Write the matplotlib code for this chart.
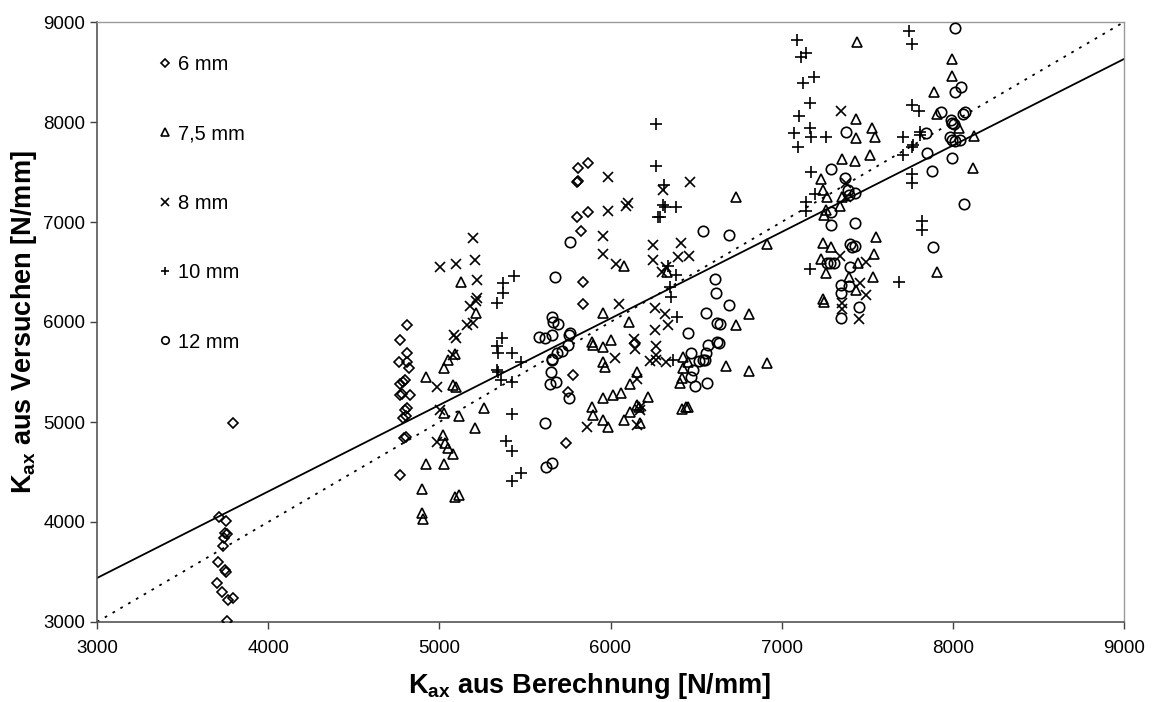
import numpy as np
import matplotlib
matplotlib.use("Agg")
import matplotlib.pyplot as plt

plt.rcParams['font.family'] = ['Liberation Sans', 'DejaVu Sans']
plt.rcParams['mathtext.fontset'] = 'custom'
plt.rcParams['mathtext.rm'] = 'Liberation Sans'
plt.rcParams['mathtext.bf'] = 'Liberation Sans:bold'
plt.rcParams['mathtext.default'] = 'bf'

# ---------------- data ----------------
x_6mm = [3793, 3713, 3751, 3748, 3757, 3744, 3738, 3709, 3748, 3753, 3703, 3732, 3796, 3763, 3761,
         4813, 4770, 4813, 4766, 4813, 4825, 4789, 4800, 4773, 4770, 4779, 4828, 4809, 4799, 4789,
         4805, 4793, 4805, 4770,
         5868, 5810, 5804, 5810, 5868, 5804, 5827, 5840, 5840, 5782, 5753, 5740, 6143]
y_6mm = [4993, 4053, 4013, 3893, 3880, 3837, 3760, 3603, 3520, 3503, 3393, 3303, 3237, 3220, 3010,
         5970, 5820, 5693, 5603, 5603, 5543, 5403, 5420, 5380, 5270, 5280, 5270, 5137, 5120, 5037,
         5060, 4837, 4847, 4470,
         7590, 7540, 7400, 7410, 7100, 7050, 6910, 6400, 6180, 5470, 5303, 4787, 5790]

x_75mm = [5091, 5052, 5027, 4920, 5077, 5100, 5027, 5114, 5260, 5211, 5023, 5033, 5052, 5081, 4920,
          5027, 4901, 5091, 5117, 4901, 4905, 5124, 5214,
          6081, 5958, 6107, 5893, 5900, 6000, 5958, 5958, 5970, 6153, 6114, 5958, 6012, 6059, 5893,
          5899, 5958, 5985, 6079, 6114, 6156, 6166, 6220, 6172, 6425, 6454, 6425, 6415, 6405, 6415,
          6444, 6454, 6333,
          6736, 6915, 7437, 7525, 7437, 7544, 7355, 7428, 7515, 7232, 7242, 7265, 7355, 7246, 7258,
          7343, 7242, 7287, 7232, 7258, 7447, 7540, 7553, 7535, 7394, 7437, 7242,
          6810, 6736, 6674, 6810, 6915, 7246,
          7996, 7996, 7891, 7905, 8037, 8123, 8119, 7905, 7439]
y_75mm = [5680, 5620, 5537, 5447, 5370, 5353, 5087, 5060, 5137, 4937, 4870, 4787, 4737, 4677, 4580,
          4580, 4330, 4247, 4270, 4093, 4030, 6403, 6093,
          6563, 6087, 6003, 5797, 5770, 5820, 5753, 5597, 5547, 5503, 5380, 5237, 5270, 5287, 5153,
          5070, 5020, 4947, 5020, 5103, 5170, 5153, 5247, 4987, 5653, 5603, 5537, 5437, 5393, 5127,
          5153, 5147, 6500,
          7247, 6780, 8030, 7937, 7837, 7847, 7627, 7610, 7670, 7427, 7320, 7253, 7253, 7070, 7120,
          7160, 6793, 6753, 6630, 6493, 6587, 6680, 6853, 6453, 6453, 6320, 6230,
          6080, 5970, 5560, 5510, 5593, 6203,
          8627, 8460, 8303, 8077, 7937, 7860, 7543, 6503, 8800]

x_8mm = [5198, 5208, 5004, 5095, 5221, 5221, 5213, 5179, 5163, 5194, 5085, 5097, 5081, 4988, 5004, 4988,
         5987, 6464, 6308, 6103, 6093, 5987, 5958, 5958, 6032, 6249, 6409, 6249, 6395, 6459, 6327,
         6298, 6051, 6259, 6318,
         6337, 6259, 6137, 6143, 6029, 6265, 6268, 6230, 6265, 6324, 6153, 6180, 6170, 5860, 6153,
         7349, 7378, 7378, 7340, 7495, 7457, 7495, 7355, 7355, 7452]
y_8mm = [6837, 6620, 6553, 6580, 6420, 6237, 6213, 6160, 5970, 5987, 5870, 5837, 5670, 5353, 5120, 4803,
         7447, 7403, 7320, 7187, 7160, 7113, 6860, 6680, 6580, 6770, 6787, 6620, 6647, 6663, 6553,
         6503, 6180, 6137, 6080,
         5970, 5920, 5827, 5727, 5637, 5760, 5670, 5613, 5620, 5603, 5430, 5160, 5120, 4947, 4970,
         8113, 7393, 7253, 6660, 6603, 6387, 6270, 6193, 6127, 6027]

x_10mm = [5436, 5373, 5373, 5334, 5369, 5334, 5344, 5422, 5480, 5338, 5344, 5363, 5422, 5422, 5389,
          5422, 5480, 5422,
          6265, 6265, 6312, 6308, 6318, 6385, 6279, 6292, 6337, 6385, 6347, 6353, 6389, 6366,
          7165, 7103, 7071, 7165, 7171, 7258, 7096, 7174, 7194, 7141, 7145, 7165,
          7089, 7141, 7112, 7188, 7124,
          7745, 7759, 7764, 7803, 7807, 7811, 7710, 7768, 7764, 7710, 7759, 7764, 7817, 7817, 7685]
y_10mm = [6460, 6387, 6287, 6193, 5837, 5760, 5693, 5693, 5603, 5520, 5503, 5420, 5403, 5080, 4813,
          4710, 4493, 4413,
          7980, 7560, 7370, 7170, 7153, 7147, 7047, 7053, 6560, 6470, 6353, 6247, 6047, 5620,
          8187, 8060, 7887, 7937, 7847, 7847, 7753, 7503, 7280, 7203, 7113, 6527,
          8820, 8690, 8650, 8450, 8390,
          8913, 8780, 8170, 8113, 7903, 7870, 7847, 7770, 7747, 7670, 7480, 7387, 7013, 6920, 6403]

x_12mm = [5675, 5656, 5665, 5695, 5583, 5617, 5661, 5656, 5650, 5646, 5681, 5617, 5626, 5661,
          6538, 5766, 6612, 6618, 6557,
          5766, 5760, 5753, 5714, 5685, 5661, 5759,
          6454, 6620, 6620, 6571, 6557, 6473, 6518, 6551, 6483, 6473, 6493, 6561,
          7378, 7291, 7369, 7388, 7428, 7394, 7291, 7291, 7428, 7398, 7413, 7428, 7282, 7263, 7306,
          7398, 7349, 7394, 7349,
          6694, 6694, 6639, 6633, 6542, 7349, 7452,
          8011, 8050, 8011, 7928, 8070, 8060, 7987, 7996, 8005, 7843, 7982, 7996, 8011, 8040, 7847,
          7998, 7880, 8064, 7885]
y_12mm = [6453, 6053, 6003, 5980, 5853, 5837, 5870, 5620, 5503, 5380, 5403, 4993, 4553, 4587,
          6913, 6803, 6430, 6287, 6093,
          5893, 5870, 5770, 5713, 5687, 5627, 5237,
          5893, 5987, 5803, 5770, 5693, 5693, 5613, 5620, 5520, 5453, 5360, 5393,
          7903, 7527, 7437, 7320, 7293, 7270, 7103, 6970, 6993, 6780, 6753, 6763, 6587, 6593, 6587,
          6547, 6370, 6360, 6287,
          6870, 6170, 5980, 5793, 5620, 6037, 6147,
          8937, 8353, 8303, 8103, 8103, 8080, 8020, 7987, 7980, 7893, 7847, 7820, 7813, 7820, 7687,
          7643, 7513, 7180, 6747]

series_labels = ['6 mm', '7,5 mm', '8 mm', '10 mm', '12 mm']

# trend line and 1:1 line
reg_slope = 0.865
reg_intercept = 845.0
x_range = [3000, 9000]

# ---------------- plot ----------------
fig = plt.figure(figsize=(11.52, 7.02), dpi=100)
ax = fig.add_axes([97 / 1152, 80 / 702, 1027 / 1152, 600 / 702])

xr = np.array(x_range, dtype=float)
ax.plot(xr, reg_slope * xr + reg_intercept, color='black', lw=1.3, zorder=1)
ax.plot(xr, xr, color='black', lw=1.3, linestyle=(0, (1.5, 3.5)), zorder=1)

kw = dict(linestyle='none', markerfacecolor='none', markeredgecolor='black', color='black', zorder=3)
ax.plot(x_6mm, y_6mm, marker='D', markersize=5.2, markeredgewidth=1.2, label=series_labels[0], **kw)
ax.plot(x_75mm, y_75mm, marker='^', markersize=7.5, markeredgewidth=1.2, label=series_labels[1], **kw)
ax.plot(x_8mm, y_8mm, marker='x', markersize=7.5, markeredgewidth=1.2, label=series_labels[2], **kw)
ax.plot(x_10mm, y_10mm, marker='+', markersize=8.5, markeredgewidth=1.2, label=series_labels[3], **kw)
ax.plot(x_12mm, y_12mm, marker='o', markersize=7.5, markeredgewidth=1.2, label=series_labels[4], **kw)

ax.set_xlim(3000, 9000)
ax.set_ylim(3000, 9000)
ax.set_xticks(np.arange(3000, 9001, 1000))
ax.set_yticks(np.arange(3000, 9001, 1000))
ax.tick_params(direction='out', length=5, width=1, colors='#404040', labelsize=13.5, labelcolor='black')
ax.tick_params(axis='x', pad=8)

for side in ['left', 'bottom']:
    ax.spines[side].set_color('#555555')
    ax.spines[side].set_linewidth(1.2)
for side in ['top', 'right']:
    ax.spines[side].set_color('#999999')
    ax.spines[side].set_linewidth(1.0)

ax.set_xlabel(r'K$_{ax}$ aus Berechnung [N/mm]', fontsize=19.5, fontweight='bold')
ax.set_ylabel(r'K$_{ax}$ aus Versuchen [N/mm]', fontsize=19.5, fontweight='bold')
ax.xaxis.set_label_coords(0.48, -0.082)
ax.yaxis.set_label_coords(-0.056, 0.5)

leg = ax.legend(loc='upper left', bbox_to_anchor=(0.041, 0.975), frameon=False, fontsize=14.5,
                labelspacing=2.5, handlelength=0.8, handletextpad=0.25, markerscale=0.72)

fig.savefig('out.png', dpi=100)
